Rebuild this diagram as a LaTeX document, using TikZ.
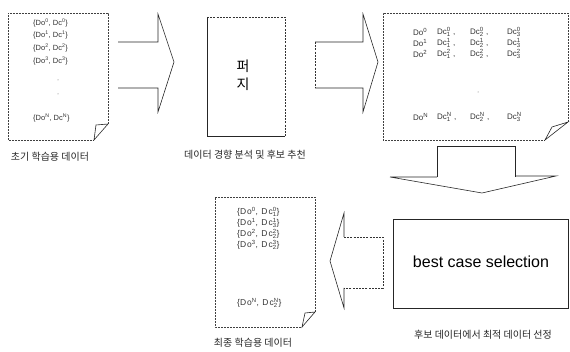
\documentclass[tikz,border=0pt]{standalone}
\usepackage{amsmath}
\usepackage{fontspec}
\setmainfont{Liberation Sans}
\newfontfamily\kr{Noto Sans CJK KR}
% data pair notation: Do^k, Dc^k_j
\newcommand\mDo[1]{\text{Do}^{\text{#1}}}
\newcommand\mDc[1]{\text{Dc}^{\text{#1}}}
\newcommand\mDcs[2]{\text{Dc}^{\text{#1}}_{\text{#2}}}
\tikzset{
  docline/.style={draw=black!75, line width=0.5pt, dash pattern=on 1.6pt off 1.4pt},
  foldline/.style={draw=black!85, line width=0.6pt, line join=miter},
  arrowline/.style={draw=black!85, line width=0.6pt, line join=miter},
  arrowdash/.style={draw=black!80, line width=0.5pt, dash pattern=on 2pt off 1.2pt},
  datatxt/.style={font=\fontsize{7.5}{8}\selectfont, text=black!80, inner sep=0pt, anchor=west},
  bigdata/.style={datatxt, font=\fontsize{8}{9}\selectfont},
  finaldata/.style={datatxt, font=\fontsize{8.5}{9}\selectfont\addfontfeature{LetterSpace=12}},
  caption/.style={font=\kr\fontsize{10}{12}\selectfont, text=black!85, inner sep=0pt},
  vdot/.style={circle, fill=black!60, inner sep=0pt, minimum size=1pt},
}
\begin{document}
\begin{tikzpicture}[x=1pt,y=-1pt]
\useasboundingbox (0,0) rectangle (570,352);

% ---------- initial training data (document with folded corner)
\draw[docline] (108,124) -- (108,13) -- (8,13) -- (8,140) -- (94,140);
\draw[foldline] (94,140) -- (96,125) -- (108,124) -- cycle;
\node[datatxt] (i0) at (33,23) {\{$\mDo{0}$, $\mDc{0}$\}};
\node[datatxt] (i1) at (33,35) {\{$\mDo{1}$, $\mDc{1}$\}};
\node[datatxt] (i2) at (33,48) {\{$\mDo{2}$, $\mDc{2}$\}};
\node[datatxt] (i3) at (33,61) {\{$\mDo{3}$, $\mDc{3}$\}};
\node[vdot] (id1) at (58,80) {};
\node[vdot] (id2) at (58,94) {};
\node[datatxt] (iN) at (33,118) {\{$\mDo{N}$, $\mDc{N}$\}};
\node[caption] (cap1) at (50,157) {초기 학습용 데이터};

% ---------- block arrow to the fuzzy stage
\draw[arrowline] (118,42) -- (158,42) -- (158,14) -- (174,62) -- (158,112) -- (158,88) -- (118,88);

% ---------- fuzzy stage
\draw[arrowline, line width=0.8pt] (207,17) -- (207,136) -- (285,136);
\draw[arrowdash, line width=0.6pt] (207,17) -- (285,17) -- (285,136);
\node[font=\kr\fontsize{14}{16}\selectfont, inner sep=0pt, align=center] (fz) at (243,75) {퍼\\[2pt]지};
\node[caption] (cap2) at (245,155) {데이터 경향 분석 및 후보 추천};

% ---------- block arrow to the candidate data
\draw[arrowdash] (315,42) -- (315,88);
\draw[arrowline] (315,42) -- (363,42) -- (363,14) -- (378,62) -- (363,112) -- (363,88) -- (315,88);

% ---------- candidate data
\draw[docline] (568,122) -- (568,13) -- (383,13) -- (383,140) -- (545,140);
\draw[foldline] (545,140) -- (552,127) -- (568,122) -- cycle;
\foreach \k/\yy in {0/32, 1/43, 2/54, N/117} {
  \node[bigdata] (c\k o) at (413,\yy) {$\mDo{\k}$};
  \node[bigdata] (c\k a) at (437,\yy) {$\mDcs{\k}{1}$ ,};
  \node[bigdata] (c\k b) at (470,\yy) {$\mDcs{\k}{2}$ ,};
  \node[bigdata] (c\k c) at (507,\yy) {$\mDcs{\k}{3}$};
}
\node[vdot] (cd1) at (478,92) {};

% ---------- downward block arrow
\draw[arrowline] (437,177) -- (437,146) -- (515,146) -- (515,177);
\draw[arrowline] (437,177) -- (390,177) -- (482,193) -- (556,176) -- (515,176);

% ---------- best case selection
\draw[arrowline, line width=0.7pt] (393,219) rectangle (568,308);
\node[font=\fontsize{16}{18}\selectfont, inner sep=0pt] (bcs) at (481,262) {best case selection};
\node[caption] (cap3) at (483,335) {후보 데이터에서 최적 데이터 선정};

% ---------- leftward block arrow
\draw[arrowdash] (344,237) -- (383,237) -- (383,288) -- (344,288);
\draw[arrowline] (344,237) -- (344,213) -- (330,261) -- (344,308) -- (344,288);

% ---------- final training data
\draw[docline] (315,312) -- (315,197) -- (215,197) -- (215,327) -- (302,327);
\draw[foldline] (302,327) -- (305,313) -- (315,312) -- cycle;
\node[finaldata] (f0) at (237,212) {\{$\mDo{0}$, $\mDcs{0}{1}$\}};
\node[finaldata] (f1) at (237,223) {\{$\mDo{1}$, $\mDcs{1}{3}$\}};
\node[finaldata] (f2) at (237,234) {\{$\mDo{2}$, $\mDcs{2}{2}$\}};
\node[finaldata] (f3) at (237,245) {\{$\mDo{3}$, $\mDcs{3}{2}$\}};
\node[finaldata] (fN) at (237,303) {\{$\mDo{N}$, $\mDcs{N}{2}$\}};
\node[caption] (cap4) at (253,343) {최종 학습용 데이터};
\end{tikzpicture}
\end{document}
